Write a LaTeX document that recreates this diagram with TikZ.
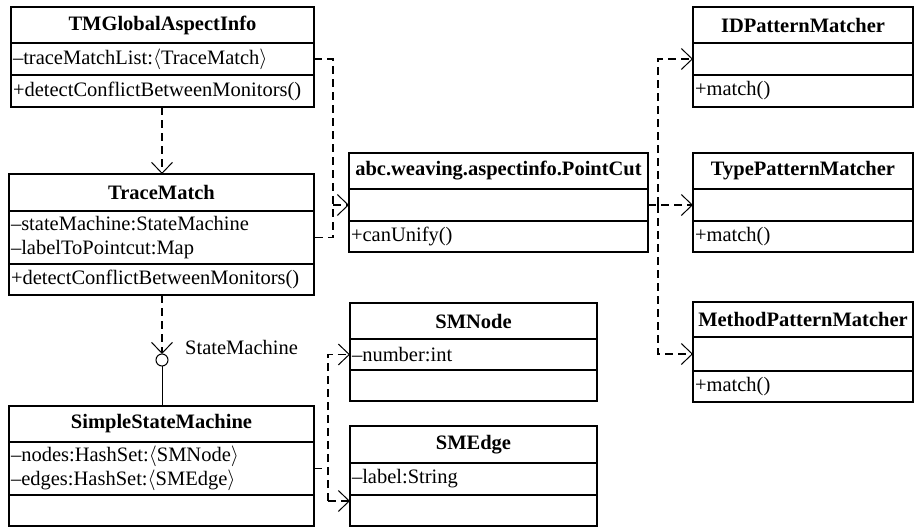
\documentclass[tikz,border=0pt]{standalone}
\usepackage{fontspec}
\setmainfont{Liberation Serif}
\usetikzlibrary{arrows.meta}
\tikzset{
  hdr/.style={draw, line width=1.6pt, anchor=north west, inner xsep=2pt, inner ysep=0pt, outer sep=0pt, align=center, font=\bfseries\fontsize{20.5}{24}\selectfont},
  cmp/.style={draw, line width=1.6pt, anchor=north west, inner xsep=2pt, inner ysep=0pt, outer sep=0pt, align=left, font=\fontsize{20.5}{24}\selectfont},
  dashln/.style={line width=1.8pt, dash pattern=on 8pt off 5pt},
  dep/.style={dashln, -{Straight Barb[length=11pt, width=21pt, line width=1pt]}},
  lbl/.style={font=\fontsize{20.5}{24}\selectfont, inner sep=0pt}
}
\newcommand{\umlcls}[9]{%
  \pgfmathsetmacro{\clsTW}{#3-4}%
  \node[hdr, minimum width=#3pt, text width=\clsTW pt, minimum height=#4pt] (#1h) at (#2) {#7};
  \node[cmp, minimum width=#3pt, text width=\clsTW pt, minimum height=#5pt] (#1a) at (#1h.south west) {#8};
  \node[cmp, minimum width=#3pt, text width=\clsTW pt, minimum height=#6pt] (#1o) at (#1a.south west) {#9};
}
\begin{document}
\begin{tikzpicture}[x=1pt,y=-1pt]
\useasboundingbox[fill=white] (0,0) rectangle (915,527);

\umlcls{tmg}{11,7}{303}{36}{32}{32}{TMGlobalAspectInfo}{–traceMatchList:$\langle$TraceMatch$\rangle$}{+detectConflictBetweenMonitors()}
\umlcls{tm}{9,174}{305}{37}{53}{31}{TraceMatch}{–stateMachine:StateMachine\\–labelToPointcut:Map}{+detectConflictBetweenMonitors()}
\umlcls{ssm}{9,406}{305}{36}{53}{31}{SimpleStateMachine}{–nodes:HashSet:$\langle$SMNode$\rangle$\\–edges:HashSet:$\langle$SMEdge$\rangle$}{}
\umlcls{pc}{349,153}{299}{36}{32}{31}{abc.weaving.aspectinfo.PointCut}{}{+canUnify()}
\umlcls{id}{693,7}{220}{36}{32}{32}{IDPatternMatcher}{}{+match()}
\umlcls{tp}{693,153}{220}{36}{32}{31}{TypePatternMatcher}{}{+match()}
\umlcls{mp}{693,302}{220}{35}{34}{31}{MethodPatternMatcher}{}{+match()}
\umlcls{smn}{350,303}{247}{36}{31}{31}{SMNode}{–number:int}{}
\umlcls{sme}{350,426}{247}{37}{32}{31}{SMEdge}{–label:String}{}

% TMGlobalAspectInfo -> TraceMatch
\draw[dep] (tmgo.south -| 162,0) -- (tmh.north -| 162,0);

% to PointCut
\coordinate (j1) at (333,205);
\draw[dashln] (tmga.east) -| (j1) |- (tma.east);
\draw[dep] (j1) -- (pca.west);

% PointCut -> matchers
\coordinate (j2) at (658,205);
\draw[dep] (pca.east) -- (tpa.west);
\draw[dep] (j2) |- (ida.west);
\draw[dep] (j2) |- (mpa.west);

% lollipop
\node[circle, draw, line width=1pt, minimum size=12pt, inner sep=0pt, outer sep=0pt] (lolli) at (162,360) {};
\draw[dep] (tmo.south -| lolli) -- (lolli.north);
\draw[line width=1pt] (lolli.south) -- (ssmh.north -| lolli);
\node[lbl, anchor=west] (smlbl) at (185,347) {StateMachine};

% SimpleStateMachine -> SMNode, SMEdge
\coordinate (j3) at (328,501);
\draw[dashln] (ssma.east) -- (ssma.east -| j3);
\draw[dep] (j3) |- (smna.west);
\draw[dep] (j3) -- (j3 -| smeo.west);
\end{tikzpicture}
\end{document}
